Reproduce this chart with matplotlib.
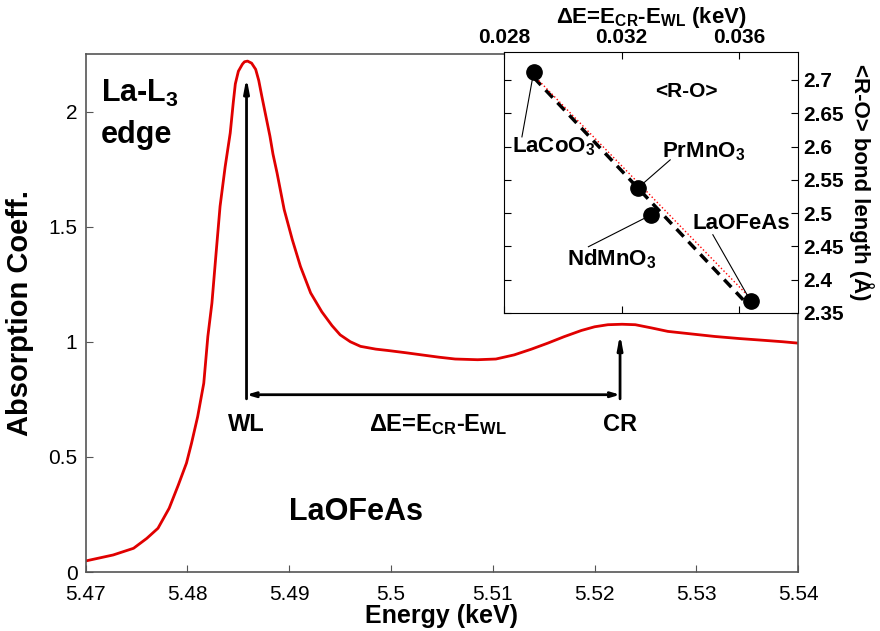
import matplotlib
matplotlib.use("Agg")
import matplotlib.pyplot as plt
import numpy as np

plt.rcParams['font.family'] = ['Liberation Sans', 'DejaVu Sans']
plt.rcParams['mathtext.fontset'] = 'custom'
plt.rcParams['mathtext.rm'] = 'Liberation Sans'
plt.rcParams['mathtext.bf'] = 'Liberation Sans:bold'
plt.rcParams['mathtext.default'] = 'regular'

# La L3 edge spectrum of LaOFeAs
energy = [5.4700, 5.4727, 5.4747, 5.4760, 5.4771, 5.4782, 5.4791, 5.4799,
          5.4804, 5.4810, 5.4816, 5.4820, 5.4824, 5.4828, 5.4832, 5.4837,
          5.4842, 5.4845, 5.4847, 5.4850, 5.4854, 5.4856, 5.4859, 5.4863,
          5.4867, 5.4870, 5.4873, 5.4877, 5.4881, 5.4884, 5.4888, 5.4895,
          5.4903, 5.4911, 5.4921, 5.4932, 5.4942, 5.4950, 5.4960, 5.4970,
          5.4985, 5.4997, 5.5015, 5.5030, 5.5047, 5.5063, 5.5085, 5.5103,
          5.5121, 5.5138, 5.5154, 5.5170, 5.5187, 5.5200, 5.5213, 5.5227,
          5.5240, 5.5256, 5.5272, 5.5295, 5.5318, 5.5342, 5.5367, 5.5385,
          5.5400]
absorb = [0.048, 0.074, 0.103, 0.146, 0.190, 0.277, 0.378, 0.473,
          0.560, 0.675, 0.820, 1.023, 1.168, 1.380, 1.588, 1.760,
          1.907, 2.040, 2.120, 2.175, 2.206, 2.216, 2.219, 2.210,
          2.183, 2.135, 2.067, 1.980, 1.893, 1.815, 1.733, 1.574,
          1.443, 1.327, 1.212, 1.130, 1.070, 1.030, 1.000, 0.980,
          0.968, 0.962, 0.952, 0.943, 0.933, 0.925, 0.922, 0.925,
          0.943, 0.968, 0.994, 1.022, 1.049, 1.065, 1.074, 1.076,
          1.074, 1.060, 1.045, 1.034, 1.023, 1.014, 1.006, 1.000,
          0.994]

E_WL = 5.4858
E_CR = 5.5225

# inset: bond length vs delta E
compounds = ['LaCoO$_3$', 'PrMnO$_3$', 'NdMnO$_3$', 'LaOFeAs']
dE = [0.02901, 0.03256, 0.03301, 0.03639]
bond = [2.712, 2.538, 2.4975, 2.3675]

fig = plt.figure(figsize=(8.8, 6.31), dpi=100)
ax = fig.add_axes([0.0974, 0.0935, 0.8096, 0.821])
ax.plot(energy, absorb, color='#e00000', lw=2)
ax.set_xlim(5.47, 5.54)
ax.set_ylim(0, 2.25)
ax.set_xticks([5.47, 5.48, 5.49, 5.5, 5.51, 5.52, 5.53, 5.54])
ax.set_xticklabels(['5.47', '5.48', '5.49', '5.5', '5.51', '5.52', '5.53', '5.54'])
ax.set_yticks([0, 0.5, 1, 1.5, 2])
ax.set_yticklabels(['0', '0.5', '1', '1.5', '2'])
ax.tick_params(direction='in', length=5, labelsize=15, color='#555555')
ax.tick_params(axis='x', pad=9)
ax.tick_params(axis='y', pad=6)
for s in ax.spines.values():
    s.set_color('#555555')
    s.set_linewidth(1.2)
ax.set_xlabel('Energy (keV)', fontsize=18, fontweight='bold', labelpad=0)
ax.set_ylabel('Absorption Coeff.', fontsize=21, fontweight='bold', labelpad=10)

# WL / CR arrows
ybar = 0.77
ax.annotate('', xy=(E_WL, 2.16), xytext=(E_WL, 0.74),
            arrowprops=dict(arrowstyle='-|>,head_length=0.8,head_width=0.15', color='black', lw=2))
ax.annotate('', xy=(E_CR, 1.045), xytext=(E_CR, 0.74),
            arrowprops=dict(arrowstyle='-|>,head_length=0.8,head_width=0.15', color='black', lw=2))
ax.annotate('', xy=(E_WL, ybar), xytext=(E_CR, ybar),
            arrowprops=dict(arrowstyle='<->,head_length=0.5,head_width=0.15', color='black', lw=2,
                            shrinkA=0, shrinkB=0))
ax.text(E_WL, 0.64, 'WL', fontsize=17, fontweight='bold', ha='center', va='center')
ax.text(E_CR, 0.64, 'CR', fontsize=17, fontweight='bold', ha='center', va='center')
ax.text(5.5046, 0.64, u'\u0394E=E$_{CR}$-E$_{WL}$', fontsize=17, fontweight='bold',
        ha='center', va='center')
ax.text(5.4715, 2.08, 'La-L$_3$', fontsize=22, fontweight='bold', ha='left', va='center')
ax.text(5.4715, 1.9, 'edge', fontsize=22, fontweight='bold', ha='left', va='center')
ax.text(5.4966, 0.26, 'LaOFeAs', fontsize=22, fontweight='bold', ha='center', va='center')

# inset
ins = fig.add_axes([0.5727, 0.504, 0.3343, 0.4136])
fit = np.polyfit(dE, bond, 1)
xf = np.array([dE[0], dE[-1]])
ins.plot(xf, np.polyval(fit, xf), color='black', ls=(0, (3, 2)), lw=2.5)
ins.plot(xf, [bond[0] - 0.005, bond[-1] + 0.004], color='red', ls=':', lw=1)
ins.plot(dE, bond, 'o', color='black', ms=11)
ins.set_xlim(0.028, 0.038)
ins.set_ylim(2.35, 2.742)
ins.set_xticks([0.028, 0.032, 0.036])
ins.set_xticklabels(['0.028', '0.032', '0.036'])
ins.set_yticks([2.35, 2.4, 2.45, 2.5, 2.55, 2.6, 2.65, 2.7])
ins.set_yticklabels(['2.35', '2.4', '2.45', '2.5', '2.55', '2.6', '2.65', '2.7'])
ins.xaxis.tick_top()
ins.yaxis.tick_right()
ins.tick_params(which='both', direction='in', length=5, top=True, bottom=True,
                left=True, right=True, labeltop=True, labelbottom=False,
                labelleft=False, labelright=True, labelsize=15)
for lab in ins.get_xticklabels() + ins.get_yticklabels():
    lab.set_fontweight('bold')
ins.xaxis.set_label_position('top')
ins.yaxis.set_label_position('right')
ins.set_xlabel(u'\u0394E=E$_{CR}$-E$_{WL}$ (keV)', fontsize=16, fontweight='bold', labelpad=4)
ins.set_ylabel(u'<R-O> bond length (\u00c5)', fontsize=16, fontweight='bold',
               rotation=270, va='bottom', labelpad=4)
ins.text(0.62, 0.85, '<R-O>', transform=ins.transAxes, fontsize=15, fontweight='bold',
         ha='center', va='center')

label_pos = [(0.02827, 2.60), (0.03337, 2.5925), (0.03013, 2.4315), (0.03442, 2.484)]
line_end = [(0.02861, 2.6145), (0.03365, 2.58), (0.03087, 2.4495), (0.0351, 2.4675)]
for name, x, y, lp, le in zip(compounds, dE, bond, label_pos, line_end):
    ins.plot([x, le[0]], [y, le[1]], color='black', lw=0.8)
    ins.text(lp[0], lp[1], name, fontsize=16, fontweight='bold', ha='left', va='center')

fig.savefig('out.png', dpi=100)
